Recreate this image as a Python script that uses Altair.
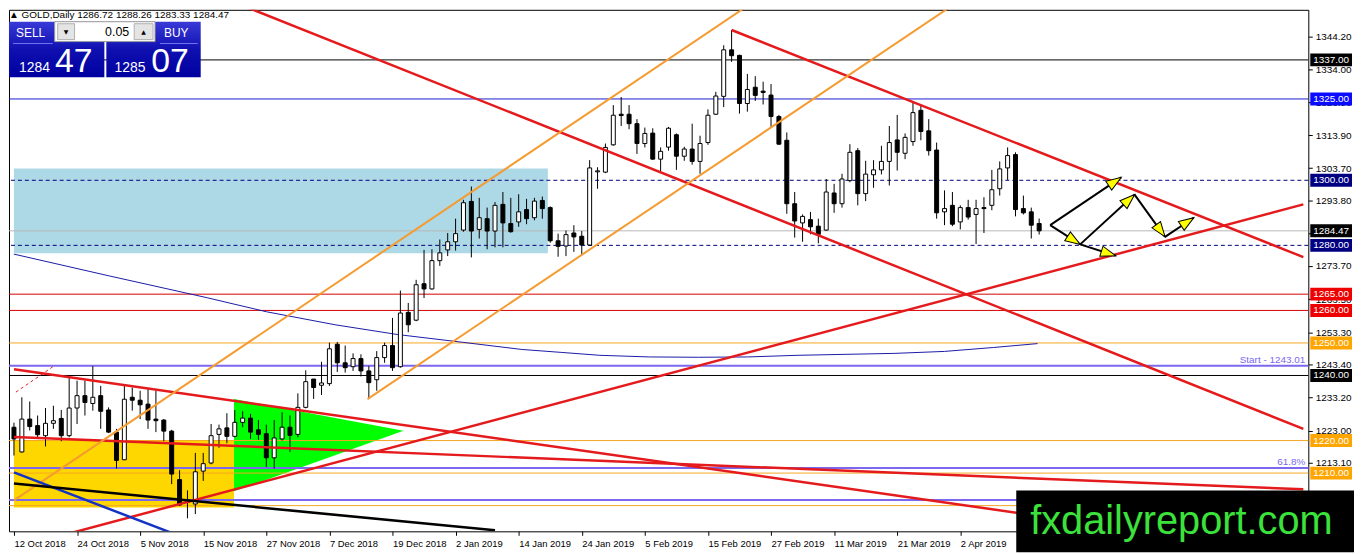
import math
import altair as alt
import pandas as pd

# ---------------- data ----------------
opens = [1224.1, 1216.5, 1226.6, 1224.6, 1221.5, 1225.3, 1226.8, 1221.5, 1230.0, 1233.8,
         1231.4, 1233.8, 1229.4, 1222.6, 1214.1, 1233.3, 1232.4, 1231.2, 1226.6, 1226.3,
         1222.9, 1208.0, 1201.0, 1200.5, 1210.6, 1213.1, 1221.9, 1223.9, 1221.3, 1225.6,
         1226.9, 1223.3, 1222.1, 1214.7, 1220.5, 1224.1, 1221.9, 1230.2, 1238.9, 1237.0,
         1237.5, 1249.6, 1243.9, 1242.7, 1245.2, 1241.4, 1238.7, 1245.5, 1249.2, 1242.7,
         1259.4, 1257.0, 1268.2, 1266.6, 1275.3, 1278.6, 1281.1, 1284.7, 1293.5, 1284.9,
         1288.2, 1284.4, 1292.6, 1286.7, 1287.2, 1291.0, 1288.5, 1293.8, 1291.6, 1281.4,
         1279.8, 1283.8, 1282.8, 1280.1, 1302.6, 1302.5, 1310.9, 1320.3, 1320.3, 1317.4,
         1311.3, 1314.5, 1306.5, 1310.2, 1314.0, 1307.4, 1309.6, 1305.8, 1311.6, 1320.3,
         1325.8, 1340.1, 1338.4, 1323.6, 1328.6, 1327.4, 1326.2, 1319.6, 1312.3, 1292.8,
         1286.9, 1287.9, 1285.9, 1284.7, 1296.1, 1292.8, 1299.9, 1309.1, 1295.9, 1301.7,
         1303.2, 1305.8, 1312.4, 1308.3, 1311.9, 1321.5, 1315.2, 1309.3, 1290.3, 1292.3,
         1287.2, 1291.6, 1289.5, 1291.6, 1292.3, 1297.4, 1303.8, 1307.9, 1291.3, 1290.3,
         1286.72]
highs = [1225.5, 1233.3, 1232.0, 1227.7, 1230.0, 1230.7, 1229.4, 1239.9, 1238.4, 1238.4,
         1242.9, 1236.8, 1230.2, 1223.6, 1236.8, 1236.3, 1235.3, 1235.8, 1235.3, 1226.6,
         1223.3, 1210.9, 1204.7, 1216.2, 1216.2, 1225.1, 1224.9, 1228.4, 1229.4, 1229.0,
         1228.2, 1226.3, 1224.9, 1226.3, 1228.7, 1227.7, 1234.5, 1241.6, 1238.9, 1244.2,
         1250.1, 1250.3, 1249.2, 1246.8, 1246.5, 1242.9, 1247.5, 1250.1, 1257.7, 1266.1,
         1262.3, 1269.4, 1278.6, 1278.8, 1281.8, 1283.8, 1288.2, 1294.0, 1298.1, 1294.6,
         1291.6, 1293.3, 1296.4, 1294.6, 1295.7, 1294.3, 1294.6, 1295.0, 1292.0, 1283.6,
         1284.6, 1286.2, 1284.4, 1306.2, 1304.0, 1311.3, 1323.1, 1325.6, 1323.1, 1318.8,
         1316.2, 1316.0, 1310.1, 1316.4, 1314.4, 1310.3, 1317.4, 1313.7, 1321.8, 1327.2,
         1341.5, 1346.2, 1338.6, 1332.7, 1332.0, 1330.3, 1329.6, 1320.1, 1314.7, 1296.4,
         1289.5, 1290.3, 1288.2, 1300.4, 1298.9, 1302.0, 1311.1, 1309.9, 1306.0, 1306.2,
         1310.6, 1316.7, 1320.1, 1314.4, 1324.4, 1323.3, 1318.8, 1311.6, 1296.9, 1296.4,
         1292.3, 1294.0, 1294.0, 1294.8, 1303.2, 1305.8, 1310.1, 1308.6, 1295.3, 1291.6,
         1288.26]
lows = [1215.4, 1216.3, 1223.1, 1220.5, 1218.2, 1223.6, 1219.8, 1221.0, 1225.1, 1227.7,
        1229.2, 1223.6, 1222.3, 1211.4, 1214.0, 1229.2, 1226.6, 1223.6, 1222.6, 1219.8,
        1206.6, 1199.9, 1196.1, 1197.4, 1207.6, 1212.7, 1217.8, 1219.2, 1221.0, 1224.1,
        1220.5, 1220.2, 1211.9, 1211.4, 1220.0, 1216.5, 1221.0, 1229.9, 1232.8, 1234.0,
        1236.8, 1241.1, 1240.9, 1241.4, 1239.7, 1232.8, 1235.3, 1243.9, 1241.4, 1242.4,
        1253.3, 1256.7, 1263.8, 1266.4, 1273.7, 1276.7, 1278.4, 1284.2, 1276.3, 1282.1,
        1278.8, 1279.4, 1279.4, 1283.9, 1285.7, 1286.5, 1287.7, 1288.2, 1280.8, 1276.5,
        1276.7, 1278.0, 1277.0, 1279.8, 1297.4, 1302.2, 1310.6, 1316.7, 1315.7, 1308.1,
        1310.1, 1306.3, 1302.8, 1309.1, 1303.2, 1306.0, 1304.8, 1302.0, 1310.9, 1320.1,
        1322.5, 1336.4, 1320.5, 1321.1, 1324.4, 1323.3, 1316.4, 1310.9, 1289.7, 1282.4,
        1281.1, 1283.4, 1280.6, 1284.5, 1290.0, 1291.6, 1299.4, 1292.3, 1293.6, 1297.7,
        1301.8, 1298.4, 1303.0, 1306.5, 1310.6, 1312.3, 1307.6, 1288.2, 1286.2, 1285.9,
        1284.9, 1287.9, 1280.4, 1283.8, 1290.8, 1295.3, 1300.1, 1288.9, 1289.5, 1282.1,
        1283.33]
closes = [1220.5, 1226.6, 1224.3, 1221.8, 1225.3, 1226.1, 1221.5, 1230.0, 1233.8, 1231.7,
          1233.3, 1229.0, 1222.6, 1213.9, 1232.7, 1232.4, 1231.0, 1226.3, 1226.1, 1222.9,
          1209.7, 1200.2, 1201.5, 1210.4, 1212.9, 1221.5, 1223.6, 1221.3, 1225.6, 1226.9,
          1222.6, 1221.9, 1214.7, 1220.8, 1224.1, 1221.6, 1230.2, 1238.1, 1236.3, 1237.7,
          1248.2, 1243.9, 1242.4, 1245.2, 1241.4, 1237.8, 1245.5, 1249.2, 1242.4, 1259.2,
          1255.6, 1267.9, 1266.6, 1275.3, 1277.7, 1281.1, 1283.6, 1293.1, 1284.4, 1288.5,
          1284.4, 1292.3, 1286.9, 1284.2, 1290.3, 1288.2, 1293.6, 1291.3, 1281.4, 1279.7,
          1283.3, 1282.6, 1280.1, 1303.8, 1302.9, 1310.1, 1320.0, 1319.9, 1317.4, 1311.3,
          1314.4, 1306.5, 1308.9, 1316.0, 1307.4, 1309.6, 1305.8, 1311.3, 1320.0, 1325.9,
          1340.1, 1338.3, 1323.6, 1327.9, 1326.1, 1327.0, 1319.6, 1311.1, 1292.8, 1287.5,
          1288.9, 1285.7, 1283.4, 1296.4, 1292.8, 1300.4, 1308.6, 1295.9, 1301.9, 1303.2,
          1305.8, 1311.6, 1308.6, 1313.2, 1320.8, 1315.0, 1309.1, 1290.0, 1291.3, 1286.5,
          1291.6, 1288.7, 1291.3, 1291.3, 1297.1, 1303.5, 1307.6, 1291.0, 1290.0, 1286.2,
          1284.47]

date_ticks = [0, 8, 16, 24, 32, 40, 48, 56, 64, 72, 80, 88, 96, 104, 112, 120]
date_labels = ["12 Oct 2018", "24 Oct 2018", "5 Nov 2018", "15 Nov 2018", "27 Nov 2018",
               "7 Dec 2018", "19 Dec 2018", "2 Jan 2019", "14 Jan 2019", "24 Jan 2019",
               "5 Feb 2019", "15 Feb 2019", "27 Feb 2019", "11 Mar 2019", "21 Mar 2019",
               "2 Apr 2019"]
price_ticks = [1344.2, 1334.0, 1323.9, 1313.9, 1303.7, 1293.8, 1283.6, 1273.7, 1263.5,
               1253.3, 1243.4, 1233.2, 1223.0, 1213.1, 1202.9]

# moving average
ma_i = [0, 12.1, 24.5, 32, 40.7, 48.6, 56.9, 64.4, 69.4, 74.3, 80.6, 86.8, 93, 99.3,
        105.5, 111.7, 118, 124.2, 129.8]
ma_p = [1277.3, 1270.6, 1263.9, 1259.6, 1255.6, 1252.6, 1250.2, 1248.0, 1247.1, 1246.2,
        1245.7, 1245.6, 1245.7, 1246.2, 1246.5, 1246.8, 1247.4, 1248.6, 1249.8]

# horizontal levels
lvl_price = [1337.00, 1325.00, 1300.00, 1284.47, 1280.00, 1265.00, 1260.00, 1250.00,
             1243.01, 1240.00, 1220.00, 1211.6, 1210.00, 1201.7, 1200.00]
lvl_color = ["#000000", "#1c1cd0", "#000080", "#b8b8b8", "#000080", "#d40000", "#d40000",
             "#f5a623", "#7b68ee", "#000000", "#f5a623", "#7b68ee", "#f5a623", "#7b68ee",
             "#f5a623"]
lvl_width = [1, 1, 1, 1, 1, 1, 1, 1, 2, 1, 1, 2, 1, 2, 1]
lvl_dashed = [False, False, True, False, True, False, False, False, False, False, False,
              False, False, False, False]

# price tags on the right axis
tag_price = [1337.00, 1325.00, 1300.00, 1284.47, 1280.00, 1265.00, 1260.00, 1250.00,
             1240.00, 1220.00, 1210.00]
tag_color = ["#000000", "#0a0aff", "#000080", "#000000", "#000080", "#ee0000", "#ee0000",
             "#ffa500", "#000000", "#ffa500", "#ffa500"]

# trend lines: start/end (bar index, price)
tl_x1 = [27.77, 91.0, 7.1, 0.0, 0.0, 0.0, 44.83, 0.0, 0.0, 0.25]
tl_p1 = [1354.9, 1346.2, 1191.5, 1241.9, 1221.1, 1201.6, 1232.75, 1210.2, 1206.8, 1234.9]
tl_x2 = [163.5, 163.5, 163.5, 163.5, 163.5, 93.8, 119.7, 21.2, 61.0, 5.0]
tl_p2 = [1223.6, 1276.4, 1292.6, 1185.2, 1205.0, 1354.9, 1354.9, 1190.5, 1192.4, 1242.8]
tl_color = ["#e41a1c", "#e41a1c", "#e41a1c", "#e41a1c", "#e41a1c", "#f59b30", "#f59b30",
            "#1433c4", "#000000", "#e41a1c"]
tl_width = [2.5, 2.5, 2.5, 2.5, 2.5, 2, 2, 2.5, 2.5, 1]
tl_dashed = [False] * 9 + [True]

# zones
zone_x1 = [0, 0]
zone_x2 = [67.7, 27.9]
zone_p1 = [1277.6, 1199.4]
zone_p2 = [1303.6, 1220.2]
zone_color = ["#add8e6", "#ffd700"]
tri_i = [27.9, 49.4]
tri_lo = [1204.4, 1223.0]
tri_hi = [1232.75, 1223.0]

# projection arrows
ar_x1 = [131.4, 131.4, 135.2, 135.2, 142.1, 145.96]
ar_p1 = [1286.2, 1286.2, 1280.3, 1280.3, 1295.6, 1282.6]
ar_x2 = [140.4, 135.2, 139.7, 142.1, 145.96, 149.6]
ar_p2 = [1300.9, 1280.3, 1276.8, 1295.6, 1282.6, 1288.5]

# ---------------- chart ----------------
W, H = 1308, 525
X_DOM = [0, 163.5]
Y_DOM = [1192.1, 1352.4]
PX = W / (X_DOM[1] - X_DOM[0])
PY = H / (Y_DOM[1] - Y_DOM[0])
FONT = "Liberation Sans"

xs = alt.Scale(domain=X_DOM, nice=False, zero=False)
ys = alt.Scale(domain=Y_DOM, nice=False, zero=False)

label_expr = "".join(f"datum.value == {v} ? '{l}' : " for v, l in zip(date_ticks, date_labels)) + "''"
x_axis = alt.Axis(values=date_ticks, labelExpr=label_expr, orient="bottom", title=None,
                  labelAlign="left", labelBaseline="top", labelPadding=3, tickSize=4,
                  tickColor="black", domain=False, labelFont=FONT, labelFontSize=9.5,
                  labelColor="black", grid=False, labelOverlap=False, labelFlush=False,
                  zindex=0)
y_axis = alt.Axis(values=price_ticks, labelExpr="format(datum.value, '.2f')", orient="right",
                  title=None, tickSize=4, tickColor="black", domain=False, labelFont=FONT,
                  labelFontSize=10, labelColor="black", grid=False, labelOverlap=False,
                  labelPadding=3, labelFlush=False, zindex=0)


def X(f):
    return alt.X(f, type="quantitative", scale=xs, axis=x_axis)


def Y(f):
    return alt.Y(f, type="quantitative", scale=ys, axis=y_axis)


one = pd.DataFrame({"a": [0]})
layers = []

# zones
zdf = pd.DataFrame({"x1": zone_x1, "x2": zone_x2, "p1": zone_p1, "p2": zone_p2, "c": zone_color})
layers.append(alt.Chart(zdf).mark_rect(clip=True).encode(
    x=X("x1"), x2=alt.X2("x2"), y=Y("p1"), y2=alt.Y2("p2"), fill=alt.Fill("c:N", scale=None)))
tdf = pd.DataFrame({"i": tri_i, "lo": tri_lo, "hi": tri_hi})
layers.append(alt.Chart(tdf).mark_area(color="#00ff00", orient="vertical", clip=True).encode(
    x=X("i"), y=Y("lo"), y2=alt.Y2("hi")))

# horizontal levels
for p, c, w, d in zip(lvl_price, lvl_color, lvl_width, lvl_dashed):
    kw = dict(color=c, strokeWidth=w)
    if d:
        kw["strokeDash"] = [4, 3]
    layers.append(alt.Chart(pd.DataFrame({"p": [p]})).mark_rule(**kw).encode(y=Y("p")))

layers.append(alt.Chart(pd.DataFrame({"p": [1243.01], "t": ["Start - 1243.01"]})).mark_text(
    align="right", baseline="bottom", dy=-1, font=FONT, fontSize=10, color="#7b68ee").encode(
    x=alt.value(1305), y=Y("p"), text="t:N"))
layers.append(alt.Chart(pd.DataFrame({"p": [1211.6], "t": ["61.8%"]})).mark_text(
    align="right", baseline="bottom", dy=-1, font=FONT, fontSize=10, color="#7b68ee").encode(
    x=alt.value(1305), y=Y("p"), text="t:N"))

# moving average
madf = pd.DataFrame({"i": ma_i, "p": ma_p})
layers.append(alt.Chart(madf).mark_line(color="#1a1aa8", strokeWidth=1, clip=True).encode(
    x=X("i"), y=Y("p")))

# candles
cdf = pd.DataFrame({"i": list(range(len(opens))), "o": opens, "h": highs, "l": lows, "c": closes})
cdf["fill"] = ["#ffffff" if c >= o else "#000000" for o, c in zip(opens, closes)]
layers.append(alt.Chart(cdf).mark_rule(color="black", strokeWidth=1).encode(
    x=X("i"), y=Y("l"), y2=alt.Y2("h")))
layers.append(alt.Chart(cdf).mark_bar(size=4, stroke="black", strokeWidth=1, orient="vertical").encode(
    x=X("i"), y=Y("o"), y2=alt.Y2("c"), fill=alt.Fill("fill:N", scale=None)))

# trend lines
for x1, p1, x2, p2, c, w, d in zip(tl_x1, tl_p1, tl_x2, tl_p2, tl_color, tl_width, tl_dashed):
    kw = dict(color=c, strokeWidth=w, clip=True)
    if d:
        kw["strokeDash"] = [3, 3]
    df = pd.DataFrame({"x1": [x1], "p1": [p1], "x2": [x2], "p2": [p2]})
    layers.append(alt.Chart(df).mark_rule(**kw).encode(
        x=X("x1"), x2=alt.X2("x2"), y=Y("p1"), y2=alt.Y2("p2")))

# arrows
head_x, head_p, head_a = [], [], []
for x1, p1, x2, p2 in zip(ar_x1, ar_p1, ar_x2, ar_p2):
    dxp = (x2 - x1) * PX
    dyp = -(p2 - p1) * PY
    L = math.hypot(dxp, dyp)
    head_a.append((math.degrees(math.atan2(dxp, -dyp)) + 360) % 360)
    f = 7.5 / L
    head_x.append(x2 - f * (x2 - x1))
    head_p.append(p2 - f * (p2 - p1))
adf = pd.DataFrame({"x1": ar_x1, "p1": ar_p1, "x2": ar_x2, "p2": ar_p2})
layers.append(alt.Chart(adf).mark_rule(color="black", strokeWidth=2).encode(
    x=X("x1"), x2=alt.X2("x2"), y=Y("p1"), y2=alt.Y2("p2")))
hdf = pd.DataFrame({"x": head_x, "p": head_p, "a": head_a})
layers.append(alt.Chart(hdf).mark_point(
    shape="M0,-1L0.7,1L-0.7,1Z", filled=True, fill="#ffff00", stroke="black", strokeWidth=1,
    size=230, opacity=1).encode(
    x=X("x"), y=Y("p"), angle=alt.Angle("a:Q", scale=None)))

# price tags on the right axis
half = 6.5 / PY
tagdf = pd.DataFrame({"p": tag_price, "c": tag_color})
tagdf["top"] = tagdf["p"] + half
tagdf["bot"] = tagdf["p"] - half
tagdf["lab"] = [f"{v:.2f}" for v in tag_price]
layers.append(alt.Chart(tagdf).mark_rect().encode(
    x=alt.value(W + 2), x2=alt.value(W + 44), y=Y("top"), y2=alt.Y2("bot"),
    fill=alt.Fill("c:N", scale=None)))
layers.append(alt.Chart(tagdf).mark_text(font=FONT, fontSize=10, color="white",
                                         align="center", baseline="middle").encode(
    x=alt.value(W + 23), y=Y("p"), text="lab:N"))


# ---------------- header / widget ----------------
def vrect(x1, x2, y1, y2, **kw):
    return alt.Chart(one).mark_rect(**kw).encode(
        x=alt.value(x1), x2=alt.value(x2), y=alt.value(y1), y2=alt.value(y2))


def vtext(x, y, t, **kw):
    return alt.Chart(one).mark_text(text=t, **kw).encode(x=alt.value(x), y=alt.value(y))


grad = alt.Gradient(gradient="linear",
                    stops=[alt.GradientStop(color="#3a3ad8", offset=0),
                           alt.GradientStop(color="#1010b0", offset=0.5),
                           alt.GradientStop(color="#0000a0", offset=1)],
                    x1=0, x2=0, y1=0, y2=1)

layers.append(vtext(0, 0, "\u25B2 GOLD,Daily  1286.72 1288.26 1283.33 1284.47",
                    font=FONT, fontSize=10, color="black", align="left", baseline="top"))
layers.append(vrect(0, 96, 12, 68, fill=grad))
layers.append(vrect(98, 193, 12, 68, fill=grad))
layers.append(vrect(46, 147, 12, 32, fill="#ffffff", stroke="#9a9a9a", strokeWidth=1))
layers.append(vrect(49, 66, 14, 30, fill="#e4e4e4", stroke="#b0b0b0", strokeWidth=1))
layers.append(vrect(126, 145, 14, 30, fill="#e4e4e4", stroke="#b0b0b0", strokeWidth=1))
layers.append(vtext(57.5, 22, "\u25BC", font="DejaVu Sans", fontSize=6, color="black",
                    align="center", baseline="middle"))
layers.append(vtext(135.5, 22, "\u25B2", font="DejaVu Sans", fontSize=6, color="black",
                    align="center", baseline="middle"))
layers.append(vtext(121, 22.5, "0.05", font=FONT, fontSize=12.5, color="black",
                    align="right", baseline="middle"))
layers.append(vtext(21.8, 23, "SELL", font=FONT, fontSize=12, color="white",
                    align="center", baseline="middle"))
layers.append(vtext(168.3, 23, "BUY", font=FONT, fontSize=12, color="white",
                    align="center", baseline="middle"))
layers.append(vrect(4, 44, 33.5, 34.5, fill="#7070f0"))
layers.append(vrect(152, 190, 33.5, 34.5, fill="#7070f0"))
layers.append(vtext(41.3, 63, "1284", font=FONT, fontSize=14, color="white",
                    align="right", baseline="alphabetic"))
layers.append(vtext(46.3, 63, "47", font=FONT, fontSize=34, color="white",
                    align="left", baseline="alphabetic"))
layers.append(vtext(137.3, 63, "1285", font=FONT, fontSize=14, color="white",
                    align="right", baseline="alphabetic"))
layers.append(vtext(143.3, 63, "07", font=FONT, fontSize=34, color="white",
                    align="left", baseline="alphabetic"))

# watermark box
layers.append(vrect(1014, 1354, 484, 546, fill="#000000"))
layers.append(vtext(1028, 528, "fxdailyreport.com", font=FONT, fontSize=40, color="#3ce23c",
                    align="left", baseline="alphabetic"))

chart = alt.layer(*layers).properties(width=W, height=H, padding=0, background="white") \
    .configure_view(stroke="black", strokeWidth=1)

chart.save("out.html", embed_options={"renderer": "svg", "actions": False})
